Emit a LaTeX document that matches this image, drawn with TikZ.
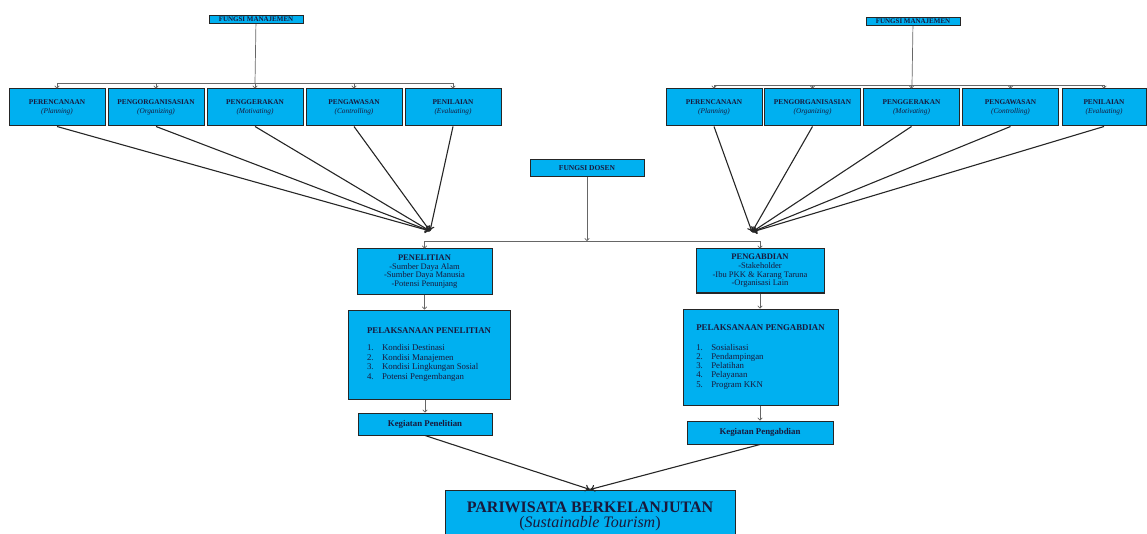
\documentclass[tikz,border=0pt]{standalone}
\usepackage{fontspec}
\setmainfont{Liberation Serif}
\usetikzlibrary{arrows.meta}
\definecolor{boxblue}{RGB}{0,176,240}
\definecolor{boxtext}{RGB}{25,25,60}

\begin{document}
\begin{tikzpicture}[x=1pt, y=-1pt,
    box/.style={draw=black!85, line width=1pt, fill=boxblue, inner sep=1pt, align=center, text=boxtext},
    fbox/.style={box, minimum width=96pt, minimum height=37pt, font=\fontsize{7.3}{8.5}\selectfont},
    headbox/.style={box, inner sep=0.5pt, text height=4.6pt, text depth=0pt, font=\fontsize{7}{8}\selectfont\bfseries},
    link/.style={draw=black!60, line width=0.7pt, -{To[length=3pt,width=5pt]}},
    conv/.style={draw=black!85, line width=1.1pt, -{To[length=5pt,width=7pt]}}]
        \clip (0,0) rectangle (1147,534);

        % management functions, left
        \node[headbox, minimum width=94pt, minimum height=8pt] (manL) at (256,19.5) {FUNGSI MANAJEMEN};
        \node[fbox] (L1) at (57,107.5) {\textbf{PERENCANAAN}\\\textit{(Planning)}};
        \node[fbox] (L2) at (156,107.5) {\textbf{PENGORGANISASIAN}\\\textit{(Organizing)}};
        \node[fbox] (L3) at (255,107.5) {\textbf{PENGGERAKAN}\\\textit{(Motivating)}};
        \node[fbox] (L4) at (354,107.5) {\textbf{PENGAWASAN}\\\textit{(Controlling)}};
        \node[fbox] (L5) at (453,107.5) {\textbf{PENILAIAN}\\\textit{(Evaluating)}};

        % management functions, right
        \node[headbox, minimum width=94pt, minimum height=8pt] (manR) at (913,21.5) {FUNGSI MANAJEMEN};
        \node[fbox] (R1) at (714,107.5) {\textbf{PERENCANAAN}\\\textit{(Planning)}};
        \node[fbox] (R2) at (812.5,107.5) {\textbf{PENGORGANISASIAN}\\\textit{(Organizing)}};
        \node[fbox] (R3) at (911.5,107.5) {\textbf{PENGGERAKAN}\\\textit{(Motivating)}};
        \node[fbox] (R4) at (1010.5,107.5) {\textbf{PENGAWASAN}\\\textit{(Controlling)}};
        \node[fbox, minimum width=84pt] (R5) at (1104,107.5) {\textbf{PENILAIAN}\\\textit{(Evaluating)}};

        \coordinate (hubL) at (255,83);
        \coordinate (hubR) at (912,85);
        \draw[black!60, line width=0.7pt] (manL) -- (hubL);
        \draw[black!60, line width=0.7pt] (manR) -- (hubR);
        \foreach \i in {1,...,5} {
            \draw[link] (hubL) -| (L\i.north);
            \draw[link] (hubR) -| (R\i.north);
        }

        \coordinate (pL) at (430,231);
        \coordinate (pR) at (752,232);
        \foreach \i in {1,...,5} {
            \draw[conv] (L\i.south) -- (pL);
            \draw[conv] (R\i.south) -- (pR);
        }

        % lecturer functions
        \node[box, minimum width=114pt, minimum height=17pt, font=\fontsize{7.5}{9}\selectfont\bfseries] (dosen) at (587,168.5) {FUNGSI DOSEN};
        \coordinate (bar) at (587,241);
        \draw[link] (dosen) -- (bar);

        \node[box, minimum width=135pt, minimum height=45pt, font=\fontsize{8.5}{8.6}\selectfont] (pen) at (424.5,271.5)
            {\textbf{PENELITIAN}\\-Sumber Daya Alam\\-Sumber Daya Manusia\\-Potensi Penunjang};
        \node[box, minimum width=128pt, minimum height=44pt, font=\fontsize{8.5}{8.6}\selectfont] (abdi) at (760,271)
            {\textbf{PENGABDIAN}\\-Stakeholder\\-Ibu PKK \& Karang Taruna\\-Organisasi Lain};
        \draw[link] (bar) -| (pen.north);
        \draw[link] (bar) -| (abdi.north);

        \node[box, align=left, minimum width=162pt, minimum height=89pt, font=\fontsize{8.8}{9.5}\selectfont] (pelpen) at (429,354.5)
            {\textbf{PELAKSANAAN PENELITIAN}\\[8pt]
             \makebox[15pt][l]{1.}Kondisi Destinasi\\
             \makebox[15pt][l]{2.}Kondisi Manajemen\\
             \makebox[15pt][l]{3.}Kondisi Lingkungan Sosial\\
             \makebox[15pt][l]{4.}Potensi Pengembangan};
        \node[box, align=left, minimum width=155pt, minimum height=96pt, font=\fontsize{8.8}{9.3}\selectfont] (pelabdi) at (760.5,357)
            {\textbf{PELAKSANAAN PENGABDIAN}\\[10pt]
             \makebox[15pt][l]{1.}Sosialisasi\\
             \makebox[15pt][l]{2.}Pendampingan\\
             \makebox[15pt][l]{3.}Pelatihan\\
             \makebox[15pt][l]{4.}Pelayanan\\
             \makebox[15pt][l]{5.}Program KKN};
        \draw[link] (pen) -- (pen |- pelpen.north);
        \draw[link] (abdi) -- (abdi |- pelabdi.north);

        \node[box, minimum width=134pt, minimum height=22pt, font=\fontsize{8.8}{10}\selectfont\bfseries] (kegpen) at (425,424) {Kegiatan Penelitian};
        \node[box, minimum width=146pt, minimum height=23pt, font=\fontsize{8.8}{10}\selectfont\bfseries] (kegabdi) at (760,432.5) {Kegiatan Pengabdian};
        \draw[link] (pelpen.south -| kegpen) -- (kegpen);
        \draw[link] (pelabdi.south -| kegabdi) -- (kegabdi);

        % sustainable tourism
        \node[box, minimum width=290pt, minimum height=52pt, font=\fontsize{16}{15}\selectfont] (wisata) at (590,516)
            {\textbf{PARIWISATA BERKELANJUTAN}\\(\textit{Sustainable Tourism})};
        \draw[conv] (kegpen.south) -- (wisata.north);
        \draw[conv] (kegabdi.south) -- (wisata.north);
\end{tikzpicture}
\end{document}
